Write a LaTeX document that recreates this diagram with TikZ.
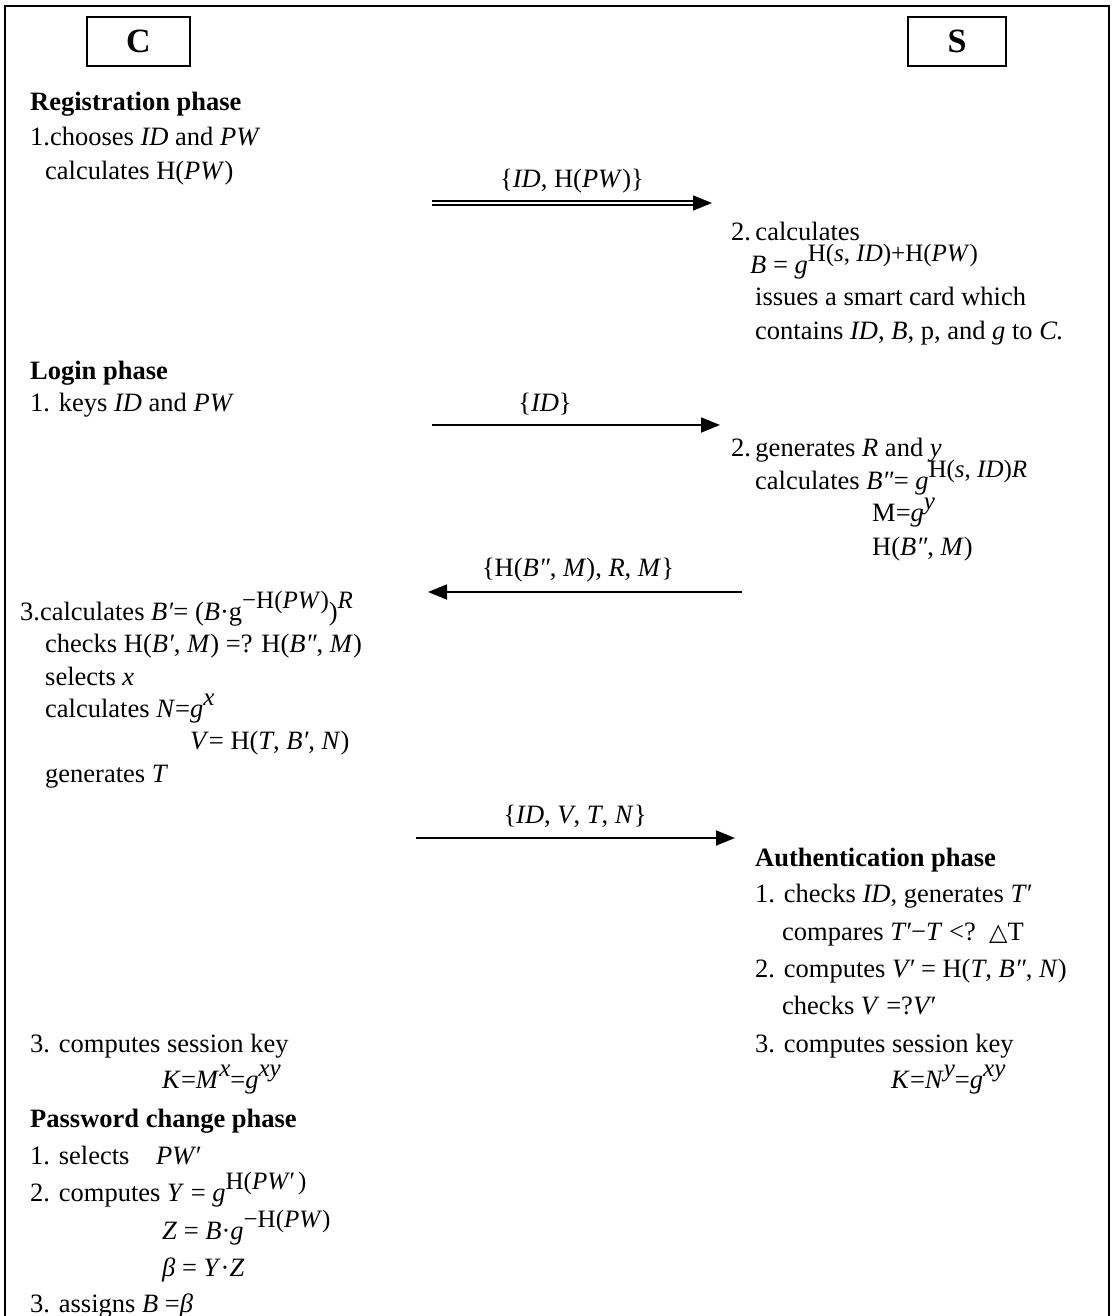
\documentclass[tikz,border=0pt]{standalone}
\usepackage{fontspec}
\setmainfont{Liberation Serif}
\newfontfamily\symfont{DejaVu Sans}
\usetikzlibrary{arrows.meta}
% raised exponent, almost body size
\newcommand{\sps}[1]{\raisebox{0.42em}{\fontsize{25}{25}\selectfont #1}}
\newcommand{\vi}[1]{\textit{#1}}

\begin{document}
\begin{tikzpicture}[x=1pt,y=-1pt,
  txt/.style={anchor=base west, inner sep=0pt, font=\fontsize{26.5}{30}\selectfont},
  head/.style={anchor=base west, inner sep=0pt, font=\fontsize{26.5}{30}\selectfont\bfseries},
  party/.style={draw, line width=2.2pt, minimum height=49pt, inner sep=0pt,
                font=\fontsize{34}{34}\selectfont\bfseries},
  msg/.style={line width=1.8pt, -{Triangle[length=19pt,width=15pt]}},
  dblmsg/.style={double, double distance=2.2pt, line width=1.5pt,
                 -{Triangle[length=19pt,width=15pt]}},
  lbl/.style={anchor=base, inner sep=0pt, font=\fontsize{26.5}{30}\selectfont}]

\useasboundingbox (0,0) rectangle (1112,1316);

% outer frame
\draw[line width=2.5pt] (5,1316) -- (5,6) -- (1109,6) -- (1109,1316);

% parties
\node[party, minimum width=103pt] (C) at (138.5,41.5) {C};
\node[party, minimum width=98pt]  (S) at (957,41.5) {S};

% ---------------- registration phase ----------------
\node[head] (reghd) at (30,111) {Registration phase};
\node[txt] (reg1) at (30,146) {1.chooses \vi{ID} and \vi{PW}};
\node[txt] (reg1b) at (45,180) {calculates H(\vi{PW})};

\coordinate (m1s) at (432,203);
\coordinate (m1e) at (712,203);
\draw[dblmsg] (m1s) -- (m1e);
\node[lbl] (m1l) at (572,188) {\{\vi{ID}, H(\vi{PW})\}};

\node[txt] (reg2) at (731,240) {2.\,calculates};
\node[txt] (reg2b) at (750,273) {\vi{B} = \vi{g}\sps{H(\vi{s}, \vi{ID})+H(\vi{PW})}};
\node[txt] (reg2c) at (755,305) {issues a smart card which};
\node[txt] (reg2d) at (755,339) {contains \vi{ID}, \vi{B}, p, and \vi{g} to \vi{C.}};

% ---------------- login phase ----------------
\node[head] (loghd) at (30,379) {Login phase};
\node[txt] (log1) at (30,411) {1. keys \vi{ID} and \vi{PW}};

\coordinate (m2s) at (432,425);
\coordinate (m2e) at (720,425);
\draw[msg] (m2s) -- (m2e);
\node[lbl] (m2l) at (545,411) {\{\vi{ID}\}};

\node[txt] (log2) at (731,456) {2.\,generates \vi{R} and \vi{y}};
\node[txt] (log2b) at (755,489) {calculates \vi{B″}= \vi{g}\sps{H(\vi{s}, \vi{ID})\vi{R}}};
\node[txt] (log2c) at (872,521) {M=\vi{g}\sps{\vi{y}}};
\node[txt] (log2d) at (872,555) {H(\vi{B″}, \vi{M})};

\coordinate (m3s) at (742,592);
\coordinate (m3e) at (428,592);
\draw[msg] (m3s) -- (m3e);
\node[lbl] (m3l) at (578,576) {\{H(\vi{B″}, \vi{M}), \vi{R}, \vi{M}\}};

\node[txt] (log3) at (20,620) {3.calculates \vi{B′}= (\vi{B}·g\sps{−H(\vi{PW})})\sps{\vi{R}}};
\node[txt] (log3b) at (45,652) {checks H(\vi{B′}, \vi{M}) =? H(\vi{B″}, \vi{M})};
\node[txt] (log3c) at (45,685) {selects \vi{x}};
\node[txt] (log3d) at (45,717) {calculates \vi{N}=\vi{g}\sps{\vi{x}}};
\node[txt] (log3e) at (190,749) {\vi{V}= H(\vi{T}, \vi{B′}, \vi{N})};
\node[txt] (log3f) at (45,782) {generates \vi{T}};

\coordinate (m4s) at (416,838);
\coordinate (m4e) at (735,838);
\draw[msg] (m4s) -- (m4e);
\node[lbl] (m4l) at (575,823) {\{\vi{ID}, \vi{V}, \vi{T}, \vi{N}\}};

% ---------------- authentication phase ----------------
\node[head] (authhd) at (755,866) {Authentication phase};
\node[txt] (auth1) at (755,902) {1. checks \vi{ID}, generates \vi{T′}};
\node[txt] (auth1b) at (782,940) {compares \vi{T′}−\vi{T} <?\ \ {\symfont\fontsize{24}{24}\selectfont △}T};
\node[txt] (auth2) at (755,977) {2. computes \vi{V′} = H(\vi{T}, \vi{B″}, \vi{N})};
\node[txt] (auth2b) at (782,1014) {checks \vi{V} =?\vi{V′}};
\node[txt] (auth3) at (755,1052) {3. computes session key};
\node[txt] (auth3b) at (891,1088) {\vi{K}=\vi{N}\sps{\vi{y}}=\vi{g}\sps{\vi{xy}}};

\node[txt] (cli3) at (30,1052) {3. computes session key};
\node[txt] (cli3b) at (162,1088) {\vi{K}=\vi{M}\sps{\vi{x}}=\vi{g}\sps{\vi{xy}}};

% ---------------- password change phase ----------------
\node[head] (pwhd) at (30,1127) {Password change phase};
\node[txt] (pw1) at (30,1164) {1. selects\ \ \ \ \vi{PW′}};
\node[txt] (pw2) at (30,1201) {2. computes \vi{Y} = \vi{g}\sps{H(\vi{PW′}\,)}};
\node[txt] (pw2b) at (162,1239) {\vi{Z} = \vi{B}·\vi{g}\sps{−H(\vi{PW})}};
\node[txt] (pw2c) at (162,1276) {\vi{β} = \vi{Y}·\vi{Z}};
\node[txt] (pw3) at (30,1312) {3. assigns \vi{B} =\vi{β}};

\end{tikzpicture}
\end{document}
